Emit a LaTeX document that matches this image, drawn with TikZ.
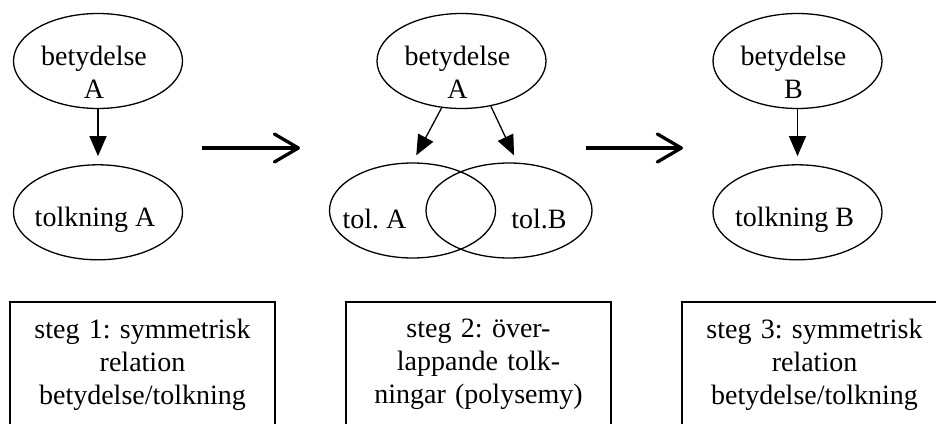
\documentclass[tikz,border=0pt]{standalone}
\usepackage{fontspec}
\setmainfont{Liberation Serif}
\usetikzlibrary{arrows.meta,shapes,positioning}
\frenchspacing

\tikzset{
    sense/.style={draw,ellipse,line width=1.3pt,inner sep=0pt,
        minimum width=169pt,minimum height=95pt},
    reading/.style={sense,minimum width=166pt},
    word/.style={align=center},
    link/.style={-{Triangle[length=20pt,width=17pt]},line width=1.3pt,shorten >=8pt},
    stagearrow/.style={-{Straight Barb[length=24pt,width=28pt,round]},line width=3.3pt},
    stepbox/.style={draw,line width=2pt,anchor=north,text width=245pt,inner xsep=10pt,
        inner ysep=17pt,text depth=140pt,align=center}
}

\begin{document}
\begin{tikzpicture}[x=1pt,y=-1pt,font=\fontsize{28}{33}\selectfont]
    \useasboundingbox (0,0) rectangle (936,423);
    \clip (0,0) rectangle (936,423);

    \node[sense,label={[word,xshift=-4pt,yshift=-11pt]center:{betydelse\\A}}] (bA) at (98,61) {};
    \node[sense,below=55pt of bA,label={[word,xshift=-3pt,yshift=-8pt]center:tolkning A}] (tA) {};

    \node[sense,label={[word,xshift=-4pt,yshift=-11pt]center:{betydelse\\A}}] (bM) at (461.5,61) {};
    \node[reading,label={[word,xshift=-38pt,yshift=-8pt]center:tol. A}] (tolA) at (412.5,210.5) {};
    \node[reading,label={[word,xshift=30pt,yshift=-8pt]center:tol.B}] (tolB) at (509,210.5) {};

    \node[sense,label={[word,xshift=-4pt,yshift=-11pt]center:{betydelse\\B}}] (bB) at (797.5,61) {};
    \node[sense,below=55pt of bB,label={[word,xshift=-3pt,yshift=-8pt]center:tolkning B}] (tB) {};

    \draw[link] (bA) -- (tA);
    \draw[link] (bM.-113) -- (tolA.north);
    \draw[link] (bM.-57) -- (tolB.80);
    \draw[link] (bB) -- (tB);

    \coordinate (g1) at (202,148);
    \coordinate (g2) at (300,148);
    \coordinate (g3) at (586,148);
    \coordinate (g4) at (683,148);
    \draw[stagearrow] (g1) -- (g2);
    \draw[stagearrow] (g3) -- (g4);

    \node[stepbox] (s1) at (142.5,301) {steg 1: symmetrisk\\relation\\betydelse/tolkning};
    \node[stepbox] (s2) at (478.5,301) {steg 2: över-\\lappande tolk-\\ningar (polysemy)};
    \node[stepbox] (s3) at (814.5,301) {steg 3: symmetrisk\\relation\\betydelse/tolkning};
\end{tikzpicture}
\end{document}
